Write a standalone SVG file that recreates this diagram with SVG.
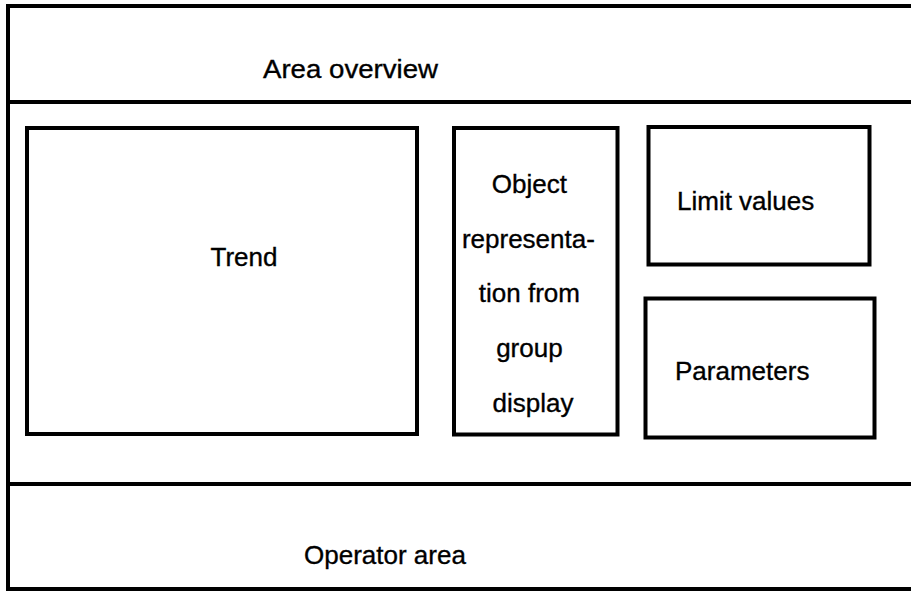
<svg xmlns="http://www.w3.org/2000/svg" width="911" height="591" viewBox="0 0 911 591">
  <style>
    .frame { stroke: #000; fill: none; stroke-width: 4; }
    .box { fill: #fff; stroke: #000; stroke-width: 4; }
    .lbl { font-family: "Liberation Sans", Arial, Helvetica, sans-serif; font-size: 26px; fill: #000; stroke: #000; stroke-width: 0.35; }
  </style>
  <rect width="911" height="591" fill="#fff"/>
  <g id="frame">
    <line class="frame" x1="8" y1="6" x2="911" y2="6"/>
    <line class="frame" x1="8" y1="4" x2="8" y2="591"/>
    <line class="frame" x1="6" y1="102" x2="911" y2="102"/>
    <line class="frame" x1="6" y1="484" x2="911" y2="484" stroke-width="5"/>
    <line class="frame" x1="8" y1="589" x2="911" y2="589" stroke="#555" stroke-width="3"/>
  </g>
  <g id="area-overview">
    <text class="lbl" x="263" y="78" textLength="175" lengthAdjust="spacingAndGlyphs">Area overview</text>
  </g>
  <g id="trend">
    <rect class="box" x="27" y="128" width="390" height="306"/>
    <text class="lbl" x="244" y="266" text-anchor="middle">Trend</text>
  </g>
  <g id="object-representation">
    <rect class="box" x="454" y="128" width="163.5" height="306.5"/>
    <text class="lbl" text-anchor="middle">
      <tspan x="533" y="193">Object</tspan>
      <tspan x="532" y="248">representa-</tspan>
      <tspan x="533" y="302">tion from</tspan>
      <tspan x="533" y="357">group</tspan>
      <tspan x="533" y="412">display</tspan>
    </text>
  </g>
  <g id="limit-values">
    <rect class="box" x="648.5" y="127" width="221" height="137.5"/>
    <text class="lbl" x="677" y="210">Limit values</text>
  </g>
  <g id="parameters">
    <rect class="box" x="645.5" y="298.5" width="229" height="139"/>
    <text class="lbl" x="675" y="380">Parameters</text>
  </g>
  <g id="operator-area">
    <text class="lbl" x="304" y="564">Operator area</text>
  </g>
  <g id="connectors"></g>
</svg>
